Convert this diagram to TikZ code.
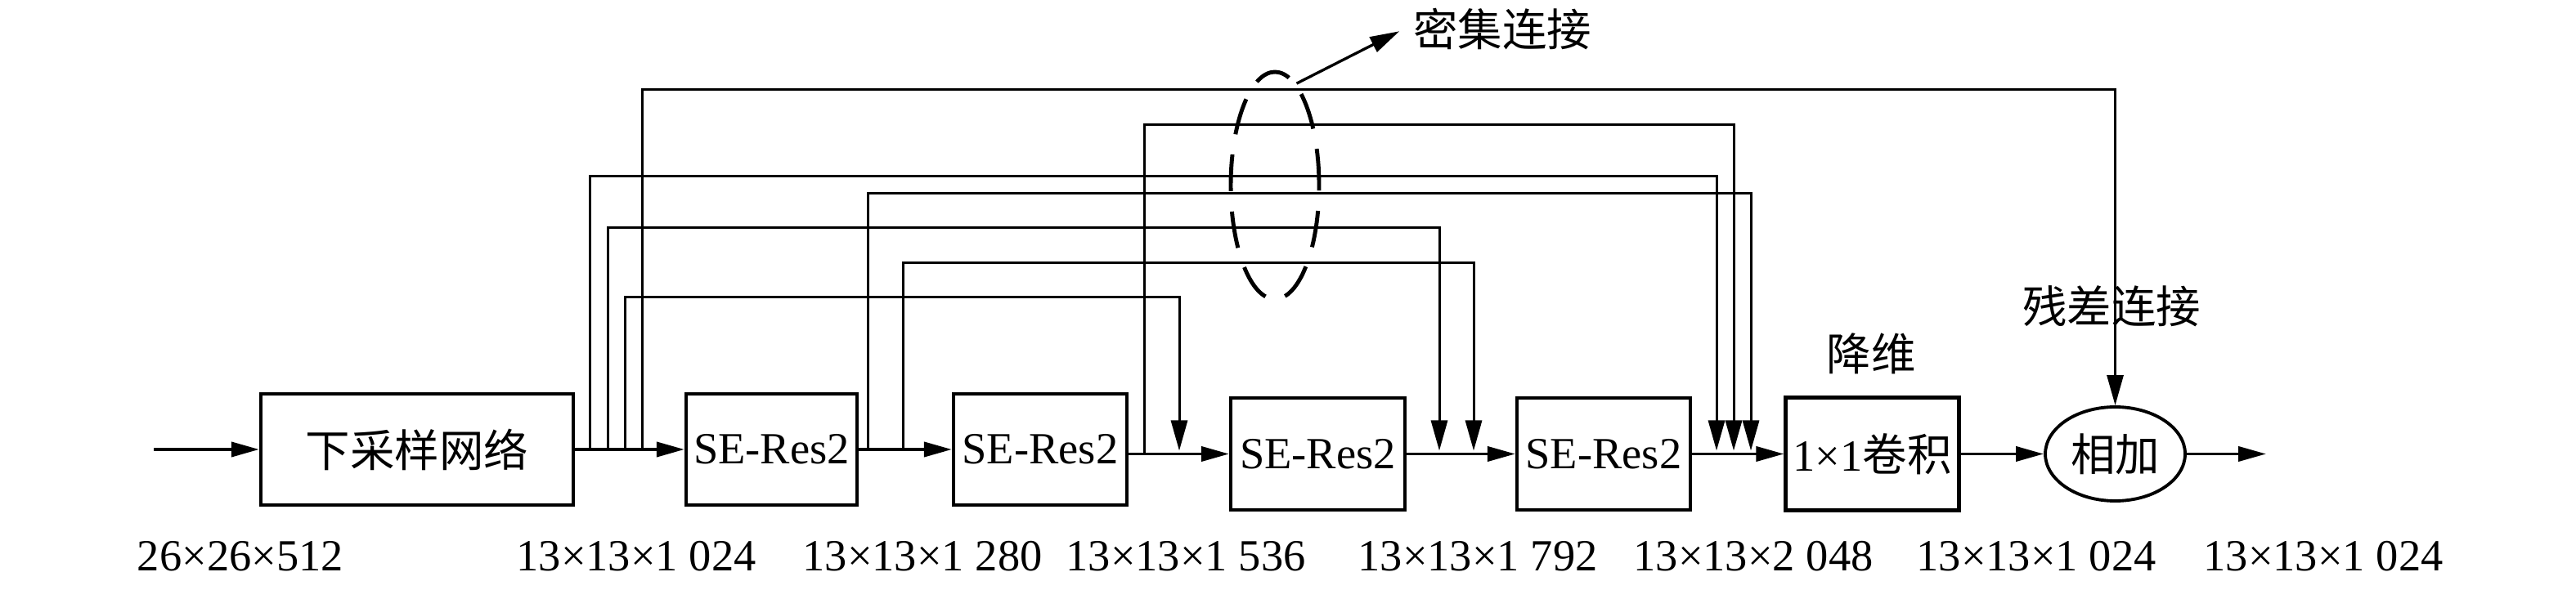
\documentclass[tikz,border=0pt]{standalone}
\usepackage{fontspec}
\setmainfont{Liberation Serif}
\newfontfamily\cjk{Noto Sans CJK SC}
\usetikzlibrary{arrows.meta,shapes.geometric}

\tikzset{
  blk/.style={draw, line width=1.2pt, minimum height=1.36cm, inner sep=1pt},
  flow/.style={-{Triangle[length=3.4mm,width=1.8mm]}, line width=1.1pt},
  skip/.style={-{Triangle[length=3.7mm,width=2mm]}, line width=0.85pt},
}

\begin{document}
\begin{tikzpicture}[font=\fontsize{15.5}{18}\selectfont]
  \useasboundingbox (0,0) rectangle (31.5,7.22);

  % Main chain
  \coordinate (in) at (1.88,1.72);
  \node[blk, minimum width=3.82cm] (ds) at (5.10,1.72) {\cjk 下采样网络};
  \node[blk, minimum width=2.09cm] (se1) at (9.435,1.72) {SE-Res2};
  \node[blk, minimum width=2.12cm] (se2) at (12.72,1.72) {SE-Res2};
  \node[blk, minimum width=2.13cm, minimum height=1.37cm] (se3) at (16.115,1.665) {SE-Res2};
  \node[blk, minimum width=2.12cm, minimum height=1.37cm] (se4) at (19.61,1.665) {SE-Res2};
  \node[blk, minimum width=2.12cm, minimum height=1.38cm] (conv) at (22.895,1.665) {1×1{\cjk 卷积}};
  \node[draw, ellipse, line width=1.1pt, inner sep=0pt, minimum width=1.71cm, minimum height=1.15cm] (add) at (25.865,1.665) {\cjk 相加};
  \coordinate (out) at (27.71,1.665);

  \draw[flow] (in) -- (ds);
  \draw[flow] (ds) -- (se1);
  \draw[flow] (se1) -- (se2);
  \draw[flow] (se2.east |- se3.west) -- (se3);
  \draw[flow] (se3) -- (se4);
  \draw[flow] (se4) -- (conv);
  \draw[flow] (conv) -- (add);
  \draw[flow] (add) -- (out);

  % Taps and drops of the dense links
  \coordinate (tA) at (7.21,1.72);
  \coordinate (tB) at (7.43,1.72);
  \coordinate (tC) at (7.64,1.72);
  \coordinate (tR) at (7.85,1.72);
  \coordinate (tD) at (10.61,1.72);
  \coordinate (tE) at (11.04,1.72);
  \coordinate (tF) at (13.99,1.665);
  \coordinate (dA) at (20.99,1.705);
  \coordinate (dB) at (17.60,1.705);
  \coordinate (dC) at (14.42,1.705);
  \coordinate (dD) at (21.41,1.705);
  \coordinate (dE) at (18.02,1.705);
  \coordinate (dF) at (21.20,1.705);

  \foreach \a/\b/\h in {tA/dA/3.34, tB/dB/2.71, tC/dC/1.86, tD/dD/3.13, tE/dE/2.28, tF/dF/4.03}
    \draw[skip] (\a) -- ++(0,\h) -| (\b);

  % Residual link
  \draw[skip] (tR) -- ++(0,4.40) -| (add.north);

  % Labels
  \node[draw, ellipse, dash pattern=on 4.5mm off 2.5mm, line width=1.4pt, inner sep=0pt, minimum width=1.08cm, minimum height=2.78cm] (grp) at (15.59,4.95) {};
  \node (lblDense) at (18.37,6.86) {\cjk 密集连接};
  \draw[-{Triangle[length=3.6mm,width=2mm]}, line width=0.95pt, shorten >=0.5mm] (grp.78) -- (lblDense.west);
  \node (lblRes) at (25.82,3.47) {\cjk 残差连接};
  \node (lblDown) at (22.88,2.89) {\cjk 降维};

  \foreach \x/\t [count=\i] in {2.94/26×26×512, 7.78/13×13×1 024, 11.28/13×13×1 280, 14.50/13×13×1 536, 18.07/13×13×1 792, 21.44/13×13×2 048, 24.90/13×13×1 024, 28.41/13×13×1 024}
    \node (dim\i) at (\x,0.41) {\t};
\end{tikzpicture}
\end{document}
